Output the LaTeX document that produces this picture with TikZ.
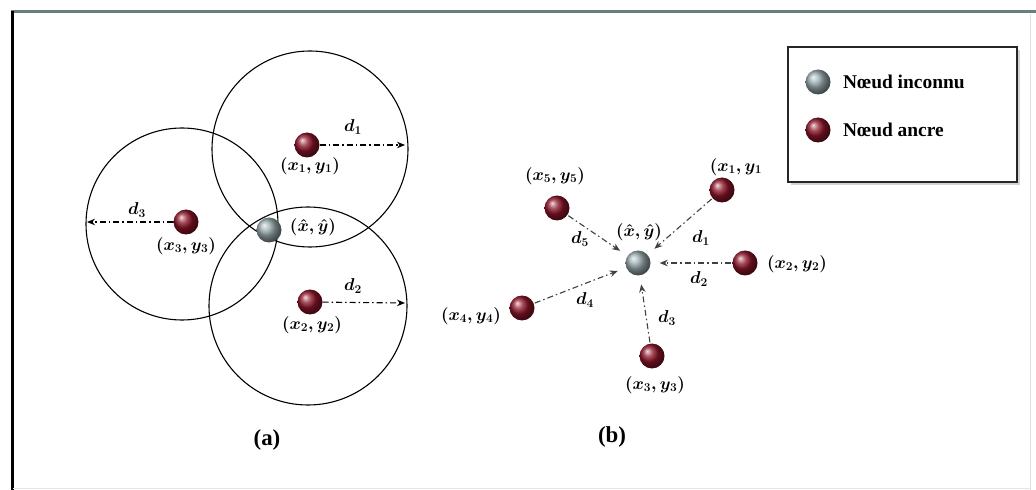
\documentclass[tikz,border=0pt]{standalone}
\usepackage{fontspec}
\setmainfont{Liberation Serif}
\usetikzlibrary{arrows.meta,shadows,calc}
\definecolor{anchorred}{RGB}{140,20,40}
\definecolor{unkgray}{RGB}{150,168,172}
\definecolor{framegray}{RGB}{105,125,125}
\begin{document}
\begin{tikzpicture}[x=1bp,y=-1bp,
  anchornode/.style={circle, minimum size=25bp, inner sep=0pt, shading=ball, ball color=anchorred},
  unode/.style={circle, minimum size=25bp, inner sep=0pt, shading=ball, ball color=unkgray},
  lbl/.style={font=\fontsize{18}{20}\selectfont\boldmath, inner sep=1bp},
  captiontext/.style={font=\fontsize{23}{25}\selectfont\bfseries},
  legtext/.style={font=\fontsize{19.5}{21}\selectfont\bfseries, anchor=west, inner sep=0pt},
  darrow/.style={dash pattern=on 6bp off 3bp on 1.5bp off 3bp, line width=1.1bp, -{Stealth[length=8bp,width=6.5bp]}},
  barrow/.style={darrow, draw=black!75, shorten >=9bp, shorten <=1bp},
  rangecircle/.style={line width=1.1bp}]
\useasboundingbox (0,0) rectangle (1036,490);
% frame
\draw[line width=3bp, framegray] (11,12) -- (1036,12);
\draw[line width=3bp, black] (12,11) -- (12,490);
\draw[line width=0.8bp, black!12] (1030,14) -- (1030,490);
\draw[line width=1.2bp, black!10] (13,488.5) -- (1030,488.5);

% ---------- panel (a)
\coordinate (c1) at (310,149);
\coordinate (c2) at (308,306);
\coordinate (c3) at (182,224);
\draw[rangecircle] (c1) circle[radius=98];
\draw[rangecircle] (c2) circle[radius=99];
\draw[rangecircle] (c3) circle[radius=96];
\node[anchornode] (A1) at (307,145) {};
\node[anchornode] (A2) at (310,302) {};
\node[anchornode] (A3) at (186,222) {};
\node[unode] (AU) at (269,230) {};
\coordinate (e1) at (405,145);
\coordinate (e2) at (405,303);
\coordinate (e3) at (87,222);
\draw[darrow] (A1) -- (e1);
\draw[darrow] (A2) -- (e2);
\draw[darrow] (A3) -- (e3);
\node[lbl] (ld1) at (353,127) {$d_1$};
\node[lbl] (ld2) at (353,286) {$d_2$};
\node[lbl] (ld3) at (137,210) {$d_3$};
\node[lbl] (la1) at (310,166) {$(x_1,y_1)$};
\node[lbl] (la2) at (312,325) {$(x_2,y_2)$};
\node[lbl] (la3) at (186,246) {$(x_3,y_3)$};
\node[lbl] (lau) at (313,227) {$(\hat{x},\hat{y})$};
\node[captiontext] (capa) at (267,440) {(a)};

% ---------- panel (b)
\node[unode] (U) at (638,263) {};
\node[anchornode] (B1) at (722,190) {};
\node[anchornode] (B2) at (745,263) {};
\node[anchornode] (B3) at (652,356) {};
\node[anchornode] (B4) at (522,308) {};
\node[anchornode] (B5) at (557,208) {};
\draw[barrow] (B1) -- (U);
\draw[barrow] (B2) -- (U);
\draw[barrow] (B3) -- (U);
\draw[barrow] (B4) -- (U);
\draw[barrow] (B5) -- (U);
\node[lbl] (lb1) at (736,167) {$(x_1,y_1$};
\node[lbl] (lb2) at (797,264) {$(x_2,y_2)$};
\node[lbl] (lb3) at (655,385) {$(x_3,y_3)$};
\node[lbl] (lb4) at (471,316) {$(x_4,y_4)$};
\node[lbl] (lb5) at (555,176) {$(x_5,y_5)$};
\node[lbl] (lbu) at (639,232) {$(\hat{x},\hat{y})$};
\node[lbl] (ld1b) at (701,238) {$d_1$};
\node[lbl] (ld2b) at (699,279) {$d_2$};
\node[lbl] (ld3b) at (667,318) {$d_3$};
\node[lbl] (ld4b) at (585,300) {$d_4$};
\node[lbl] (ld5b) at (580,239) {$d_5$};
\node[captiontext] (capb) at (612,437) {(b)};

% ---------- legend
\node[draw=black!85, line width=2.5bp, fill=white, minimum width=229bp, minimum height=135bp,
      inner sep=0pt, drop shadow={opacity=0.35, shadow xshift=3bp, shadow yshift=-3bp}] (leg) at (902.5,114.5) {};
\node[unode] (LU) at (818,82) {};
\node[anchornode] (LA) at (818,130) {};
\node[legtext] (LUt) at (843,82) {Nœud inconnu};
\node[legtext] (LAt) at (843,130) {Nœud ancre};
\end{tikzpicture}
\end{document}
